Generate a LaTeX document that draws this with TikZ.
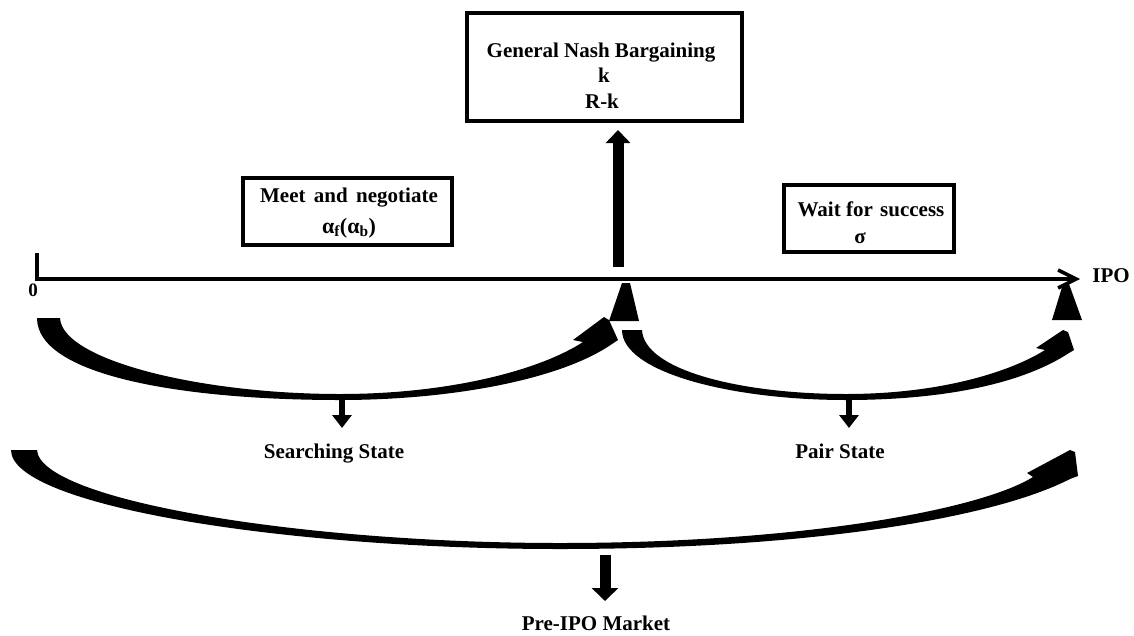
\documentclass[tikz,border=0pt]{standalone}
\usepackage{fontspec}
\setmainfont{Liberation Serif}
\usetikzlibrary{arrows.meta}
\begin{document}
\begin{tikzpicture}[x=1pt,y=-1pt,
  box/.style={draw,line width=3.5pt,inner sep=0pt},
  lbl/.style={font=\fontsize{21}{26}\selectfont\bfseries,inner sep=0pt,anchor=base},
  band/.style={fill=black},
  downarr/.style={line width=6pt,-{Triangle[width=19pt,length=13pt]}},
  bigarr/.style={line width=11pt,-{Triangle[width=24pt,length=13pt]}},
  axis/.style={line width=3.5pt,-{Straight Barb[length=18pt,width=18pt]}}
]
\useasboundingbox (0,0) rectangle (1134,635);

% boxes
\node[box,minimum width=275pt,minimum height=108pt] (gnb) at (604.5,67) {};
\node[lbl] (gnb1) at (601,57) {General Nash Bargaining};
\node[lbl] (gnb2) at (604,82.5) {k};
\node[lbl] (gnb3) at (602,108) {R-k};

\node[box,minimum width=209pt,minimum height=67pt] (meet) at (347.5,211.5) {};
\node[lbl] (meet1) at (349,202) {Meet\hspace{0.4em}and\hspace{0.4em}negotiate};
\node[lbl,font=\fontsize{22}{26}\selectfont\bfseries] (meet2) at (349,233) {α\textsubscript{f}(α\textsubscript{b})};

\node[box,minimum width=170pt,minimum height=67pt] (wait) at (869,218.5) {};
\node[lbl] (wait1) at (871,216) {Wait for\hspace{0.35em}success};
\node[lbl] (wait2) at (860,243) {σ};

% time axis
\coordinate (tick) at (37,253);
\coordinate (t0) at (37,279);
\coordinate (tend) at (1080,279);
\draw[axis] (tick) -- (t0) -- (tend);
\node[font=\fontsize{19}{19}\selectfont\bfseries,inner sep=0pt,anchor=base] (zero) at (33,296) {0};
\node[lbl] (ipo) at (1111,282) {IPO};

% up arrow to bargaining
\coordinate (upS) at (618,267);
\coordinate (upE) at (618,130);
\draw[bigarr] (upS) -- (upE);

% markers
\fill (622,283) -- (630,283) -- (639,321) -- (609,321) -- cycle;
\fill (1063,284) -- (1069,284) -- (1082,320) -- (1052,320) -- cycle;

% searching curve
\fill (60,318) .. controls (62,360) and (200,394) .. (340,394)
  .. controls (450,394) and (540,370) .. (583,342)
  -- (573,340) -- (604,317) -- (609,320) -- (618,340) -- (612,344)
  .. controls (560,380) and (450,400) .. (340,400)
  .. controls (180,400) and (37,375) .. (37,318) -- cycle;

% pair curve
\fill (642,330) .. controls (644,370) and (740,394) .. (846,394)
  .. controls (940,394) and (1010,372) .. (1045,350)
  -- (1036,348) -- (1063,330) -- (1068,332) -- (1074,350) -- (1069,353)
  .. controls (1020,385) and (940,400) .. (846,400)
  .. controls (730,400) and (622,372) .. (622,330) -- cycle;

% big curve
\fill (37,450) .. controls (40,500) and (300,543) .. (560,543)
  .. controls (800,543) and (980,510) .. (1033,477)
  -- (1027,473) -- (1070,450) -- (1075,452) -- (1078,476) -- (1070,479)
  .. controls (990,520) and (800,549) .. (560,549)
  .. controls (280,549) and (11,505) .. (11,450) -- cycle;

% down arrows and labels
\coordinate (sA) at (342,396);
\coordinate (sB) at (342,428);
\draw[downarr] (sA) -- (sB);
\coordinate (pA) at (849,396);
\coordinate (pB) at (849,428);
\draw[downarr] (pA) -- (pB);
\coordinate (mA) at (605,555);
\coordinate (mB) at (605,601);
\draw[line width=11pt,-{Triangle[width=26pt,length=13pt]}] (mA) -- (mB);

\node[lbl] (search) at (334,458) {Searching State};
\node[lbl] (pair) at (840,458) {Pair State};
\node[lbl] (market) at (596,630) {Pre-IPO Market};
\end{tikzpicture}
\end{document}
